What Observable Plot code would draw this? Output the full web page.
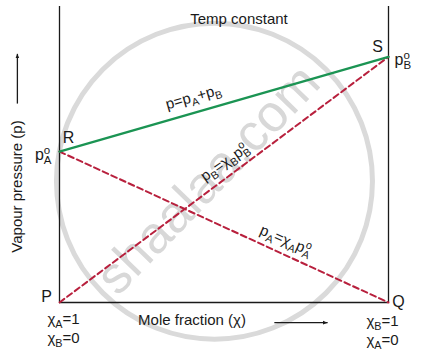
<!DOCTYPE html>
<html>
<head>
<meta charset="utf-8">
<script src="https://cdn.jsdelivr.net/npm/d3@7"></script>
<script src="https://cdn.jsdelivr.net/npm/@observablehq/plot@0.6"></script>
<style>
  html, body { margin: 0; padding: 0; background: #fff; }
  #chart svg { font-family: "Liberation Sans", Arial, sans-serif; }
</style>
</head>
<body>
<div id="chart"></div>
<script>
// Mole fraction of B (x axis, 0 → 1)
const moleFractionB = [0, 1];
// Partial vapour pressures (arbitrary units)
const pAValues = [51, 0];        // p_A = χ_A p_A°
const pBValues = [0, 83];        // p_B = χ_B p_B°
const pTotalValues = [51, 83];   // p = p_A + p_B

// Point labels
const pointNames = ["R", "S", "P", "Q"];
// Line labels (position along the line as a fraction of χ_B)
const lineLabels = ["p=p_{A}+p_{B}", "p_{B}=χ_{B}p_{B}^{o}", "p_{A}=χ_{A}p_{A}^{o}"];
const lineLabelAt = [0.407, 0.502, 0.688];
// Axis texts
const xAxisLabel = "Mole fraction (χ)";
const yAxisLabel = "Vapour pressure (p)";
const titleText = "Temp constant";
const leftTicks = ["χ_{A}=1", "χ_{B}=0"];
const rightTicks = ["χ_{B}=1", "χ_{A}=0"];
const watermarkText = "shaalaa.com";

const mk = (ys) => moleFractionB.map((x, i) => ({x, y: ys[i]}));
const pA = mk(pAValues), pB = mk(pBValues), pTotal = mk(pTotalValues);
const lerp = (s, t) => s[0].y + (s[1].y - s[0].y) * t;

const green = "#1b9453";
const red = "#b8203d";
const dash = "6,3.5";
const ink = "#1a1a1a";

const plot = Plot.plot({
  width: 423,
  height: 358,
  marginLeft: 59,
  marginRight: 35,
  marginTop: 6,
  marginBottom: 56,
  x: {domain: [0, 1], axis: null},
  y: {domain: [0, 100], axis: null},
  style: {fontSize: "14px", overflow: "visible", background: "#fff", color: ink},
  marks: [
    // watermark
    Plot.dot([{x: 0.471, y: 41}], {x: "x", y: "y", r: 158, stroke: "#dadada", strokeWidth: 5, fill: "none"}),
    Plot.text([watermarkText], {x: () => 0.452, y: () => 41.5, text: d => d, rotate: -46, fontSize: 52, fill: "#d8d8d8"}),
    // frame lines
    Plot.ruleX(moleFractionB, {x: d => d, y1: 0, y2: 100, stroke: ink, strokeWidth: 1.3}),
    Plot.ruleY([0], {x1: 0, x2: 1, stroke: ink, strokeWidth: 1.3}),
    // data lines
    Plot.line(pA, {x: "x", y: "y", stroke: red, strokeWidth: 2, strokeDasharray: dash}),
    Plot.line(pB, {x: "x", y: "y", stroke: red, strokeWidth: 2, strokeDasharray: dash}),
    Plot.line(pTotal, {x: "x", y: "y", stroke: green, strokeWidth: 2.3}),
    // point labels
    Plot.text([pointNames[0]], {x: () => 0, y: () => pAValues[0], text: d => d, dx: 9, dy: -14, fontSize: 16}),
    Plot.text([pointNames[1]], {x: () => 1, y: () => pBValues[1], text: d => d, dx: -11, dy: -10, fontSize: 16}),
    Plot.text([pointNames[2]], {x: () => 0, y: () => 0, text: d => d, dx: -13, dy: -6, fontSize: 16}),
    Plot.text([pointNames[3]], {x: () => 1, y: () => 0, text: d => d, dx: 10, dy: -1, fontSize: 16}),
    // p° labels
    Plot.text(["p_{A}^{o}"], {x: () => 0, y: () => pAValues[0], text: d => d, textAnchor: "end", dx: -8, dy: 3, fontSize: 16}),
    Plot.text(["p_{B}^{o}"], {x: () => 1, y: () => pBValues[1], text: d => d, textAnchor: "start", dx: 6, dy: 3, fontSize: 16}),
    // line labels
    Plot.text([lineLabels[0]], {x: () => lineLabelAt[0], y: () => lerp(pTotal, lineLabelAt[0]), text: d => d, rotate: -16, dy: -16, fontSize: 15}),
    Plot.text([lineLabels[1]], {x: () => lineLabelAt[1], y: () => lerp(pB, lineLabelAt[1]), text: d => d, rotate: -35, dy: -17, fontSize: 15}),
    Plot.text([lineLabels[2]], {x: () => lineLabelAt[2], y: () => lerp(pA, lineLabelAt[2]), text: d => d, rotate: 23.5, dy: -15, fontSize: 15}),
    // title and axis labels
    Plot.text([titleText], {frameAnchor: "top", textAnchor: "middle", lineAnchor: "middle", text: d => d, dx: 15, dy: 13, fontSize: 15}),
    Plot.text([xAxisLabel], {frameAnchor: "bottom", textAnchor: "middle", lineAnchor: "middle", text: d => d, dx: -32, dy: 18, fontSize: 15}),
    Plot.text([yAxisLabel], {frameAnchor: "left", textAnchor: "middle", lineAnchor: "middle", text: d => d, rotate: -90, dx: -42, dy: 32, fontSize: 15}),
    // arrows
    Plot.link([{x1: 0.653, x2: 0.815, y: -6.8}], {x1: "x1", x2: "x2", y1: "y", y2: "y", stroke: ink, strokeWidth: 1.3, markerEnd: "arrow"}),
    Plot.link([{x: -0.128, y1: 67.2, y2: 84}], {x1: "x", x2: "x", y1: "y1", y2: "y2", stroke: ink, strokeWidth: 1.3, markerEnd: "arrow"}),
    // end ticks
    Plot.text([leftTicks[0]], {x: () => 0, y: () => 0, text: d => d, dx: 4, dy: 17, fontSize: 15}),
    Plot.text([leftTicks[1]], {x: () => 0, y: () => 0, text: d => d, dx: 4, dy: 36, fontSize: 15}),
    Plot.text([rightTicks[0]], {x: () => 1, y: () => 0, text: d => d, dx: -6, dy: 19, fontSize: 15}),
    Plot.text([rightTicks[1]], {x: () => 1, y: () => 0, text: d => d, dx: -6, dy: 38, fontSize: 15})
  ]
});

document.getElementById("chart").appendChild(plot);

// Filled triangular arrow heads
d3.select(plot).selectAll("marker").each(function() {
  d3.select(this).attr("stroke", "none").attr("fill", ink)
    .selectAll("path").attr("d", "M-7,-3L0,0L-7,3Z").attr("stroke", "none").attr("fill", ink);
});

// Convert _{..} and ^{..} markup into subscript / superscript tspans
const NS = "http://www.w3.org/2000/svg";
d3.select(plot).selectAll("text").each(function() {
  const t = this.textContent;
  if (!/[_^]\{/.test(t)) return;
  const segs = [];
  const re = /([_^])\{([^}]*)\}/g;
  let last = 0, m;
  while ((m = re.exec(t))) {
    if (m.index > last) segs.push({type: "n", s: t.slice(last, m.index)});
    segs.push({type: m[1] === "_" ? "sub" : "sup", s: m[2]});
    last = re.lastIndex;
  }
  if (last < t.length) segs.push({type: "n", s: t.slice(last)});
  while (this.firstChild) this.removeChild(this.firstChild);
  let shift = 0, prev = null;
  for (const seg of segs) {
    const ts = document.createElementNS(NS, "tspan");
    const target = seg.type === "sub" ? 4 : seg.type === "sup" ? -6 : 0;
    ts.setAttribute("dy", target - shift);
    shift = target;
    if (seg.type !== "n") ts.style.fontSize = "72%";
    ts.textContent = seg.s;
    this.appendChild(ts);
    if (seg.type === "sup" && prev && prev.type === "sub") {
      const len = prev.el.getComputedTextLength();
      ts.setAttribute("dx", -len);
    }
    prev = {type: seg.type, el: ts};
  }
});
</script>
</body>
</html>
